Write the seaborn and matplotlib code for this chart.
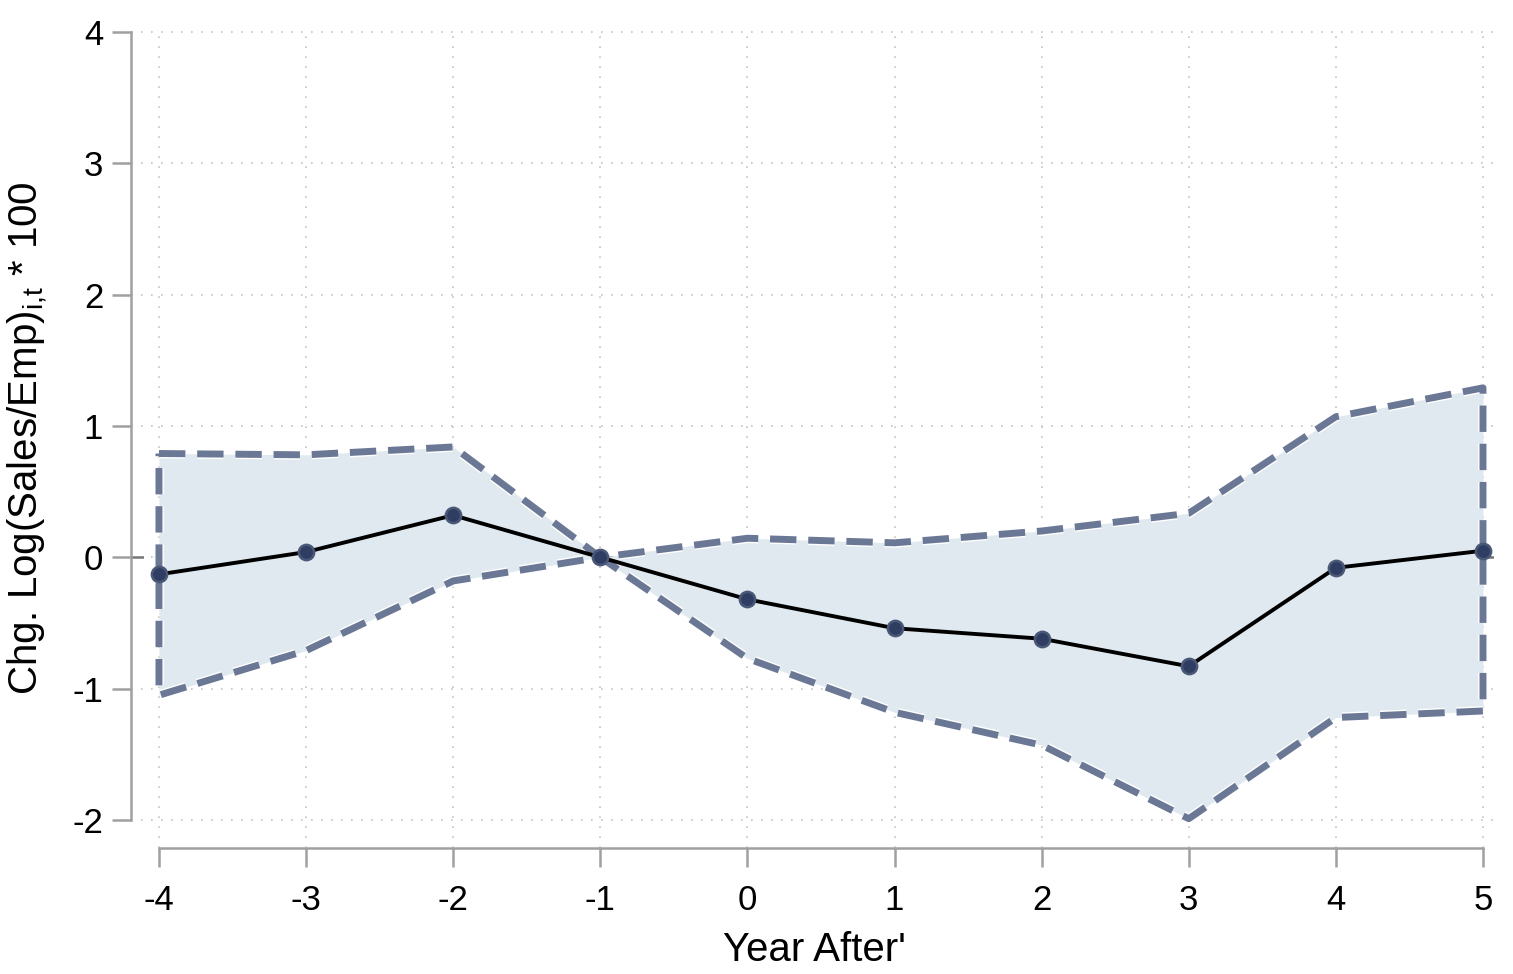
import matplotlib
matplotlib.use("Agg")
import matplotlib.pyplot as plt
import matplotlib.patheffects as pe
import seaborn as sns
import pandas as pd

# event-time estimates
years = [-4, -3, -2, -1, 0, 1, 2, 3, 4, 5]
coef = [-0.13, 0.04, 0.32, 0.0, -0.32, -0.54, -0.62, -0.83, -0.08, 0.05]
ci_hi = [0.79, 0.78, 0.84, 0.0, 0.145, 0.11, 0.20, 0.335, 1.07, 1.29]
ci_lo = [-1.05, -0.71, -0.18, 0.0, -0.77, -1.18, -1.43, -1.99, -1.22, -1.17]
yticks = [-2, -1, 0, 1, 2, 3, 4]

df = pd.DataFrame({"year": years, "coef": coef, "hi": ci_hi, "lo": ci_lo})

sns.set_style("white")
font = ["Liberation Sans Narrow", "Liberation Sans", "DejaVu Sans"]
plt.rcParams["font.family"] = font
plt.rcParams["mathtext.fontset"] = "custom"
plt.rcParams["mathtext.rm"] = "Liberation Sans"
plt.rcParams["mathtext.it"] = "Liberation Sans"

fig = plt.figure(figsize=(15.13, 9.74), dpi=100)
ax = fig.add_axes([0.0866, 0.1294, 0.9028, 0.8419])

grey = "#a0a0a0"
edge = "#6b7895"

# grid
for t in yticks:
    ax.axhline(t, color="#c4c4c4", lw=1.2, ls=(0, (1, 5)), zorder=0)
for t in years:
    ax.axvline(t, color="#c4c4c4", lw=1.2, ls=(0, (1, 5)), zorder=0)
ax.axhline(0, color="#777777", lw=1.8, ls=(0, (5, 4)), zorder=1)

# confidence band
ax.fill_between(df["year"], df["lo"], df["hi"], color="#e0e9ef", lw=0, zorder=2)
ox = list(df["year"]) + list(df["year"][::-1]) + [df["year"].iloc[0]]
oy = list(df["hi"]) + list(df["lo"][::-1]) + [df["hi"].iloc[0]]
ax.plot(ox, oy, color=edge, lw=5, dashes=(3.8, 1.7), zorder=3,
        path_effects=[pe.Stroke(linewidth=7, foreground="white"), pe.Normal()])

# point estimates
sns.lineplot(data=df, x="year", y="coef", ax=ax, color="black", lw=2.8,
             marker="o", markersize=11, markerfacecolor="#2f3d62",
             markeredgecolor="#4a5878", markeredgewidth=1.8, zorder=4)

ax.set_xlim(-4.19, 5.095)
ax.set_ylim(-2.213, 4.03)
ax.set_xticks(years)
ax.set_yticks(yticks)
ax.set_xticklabels([str(y) for y in years])
ax.set_yticklabels([str(y) for y in yticks])

for s in ["top", "right"]:
    ax.spines[s].set_visible(False)
for s in ["left", "bottom"]:
    ax.spines[s].set_color(grey)
    ax.spines[s].set_linewidth(1.8)
ax.spines["left"].set_bounds(-2, 4)
ax.spines["bottom"].set_bounds(-4, 5)

ax.tick_params(axis="both", which="major", direction="out", length=14, width=1.8,
               color=grey, labelsize=25, labelcolor="black", bottom=True, left=True)
ax.tick_params(axis="y", pad=6)
ax.tick_params(axis="x", pad=12)
ax.set_xlabel("Year After'", fontsize=29, labelpad=10, color="black")
ax.set_ylabel(r"Chg. Log(Sales/Emp)$_{i{,}t}$ * 100", fontsize=29, labelpad=16, color="black")

fig.savefig("out.png", dpi=100)
